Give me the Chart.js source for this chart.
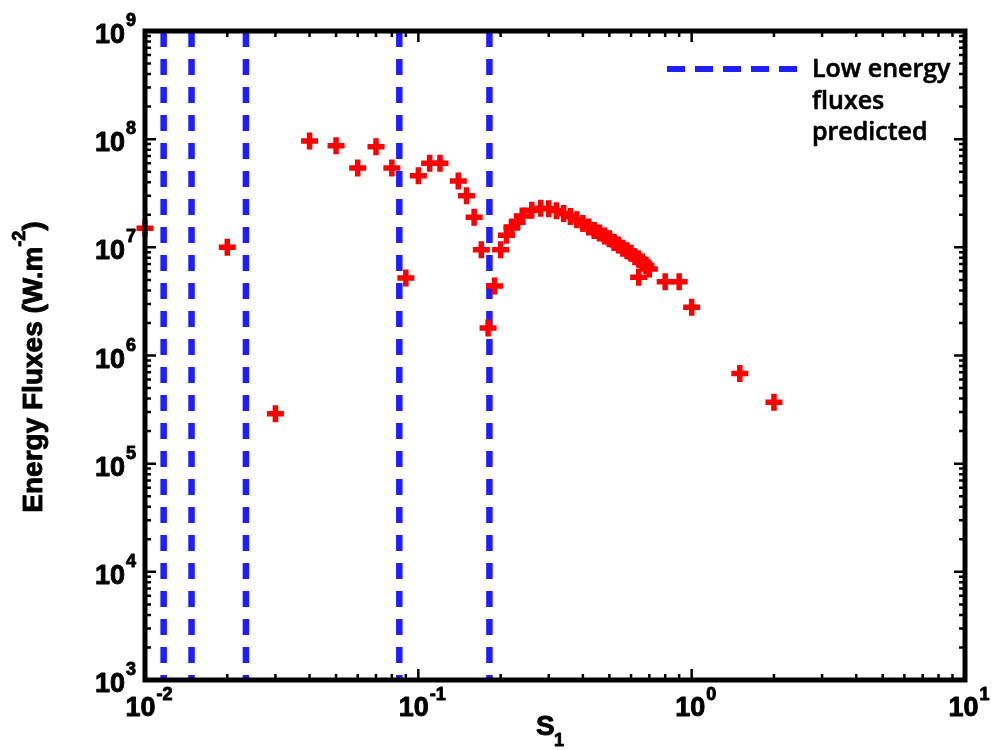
<!DOCTYPE html>
<html>
<head>
<meta charset="utf-8">
<script src="https://cdn.jsdelivr.net/npm/chart.js@4.4.1/dist/chart.umd.min.js"></script>
<style>
  html, body { margin: 0; padding: 0; background: #fff; }
  canvas { display: block; }
</style>
</head>
<body>
<canvas id="chart" width="992" height="750"></canvas>
<script>
/* Energy flux vs S1, log-log, with the "low energy" S1 values as dashed verticals. */

// measured points (S1, flux in W.m^-2)
var fluxS1 = [
  0.01, 0.02, 0.03, 0.04, 0.05, 0.06, 0.07, 0.08, 0.09, 0.10,
  0.11, 0.12, 0.14, 0.15, 0.16, 0.17, 0.18, 0.19, 0.20,
  0.21, 0.22, 0.23, 0.24, 0.26, 0.28, 0.30, 0.32, 0.34, 0.36,
  0.38, 0.40, 0.42, 0.44, 0.46, 0.48, 0.50, 0.52, 0.54, 0.56,
  0.58, 0.60, 0.62, 0.64, 0.64, 0.66, 0.68, 0.70,
  0.80, 0.90, 1.0, 1.5, 2.0
];
var fluxValues = [
  1.5e7, 1.0e7, 2.9e5, 9.6e7, 8.7e7, 5.4e7, 8.5e7, 5.4e7, 5.2e6, 4.6e7,
  6.0e7, 6.0e7, 4.1e7, 3.0e7, 1.9e7, 9.5e6, 1.8e6, 4.4e6, 9.5e6,
  1.29e7, 1.54e7, 1.71e7, 1.95e7, 2.2e7, 2.3e7, 2.27e7, 2.18e7, 2.05e7, 1.93e7,
  1.8e7, 1.66e7, 1.54e7, 1.43e7, 1.36e7, 1.27e7, 1.2e7, 1.11e7, 1.05e7, 9.8e6,
  9.3e6, 8.8e6, 8.2e6, 7.8e6, 5.3e6, 7.3e6, 6.8e6, 6.3e6,
  4.8e6, 4.8e6, 2.8e6, 6.8e5, 3.7e5
];

// S1 values where low energy fluxes are predicted (vertical dashed lines)
var lowFluxS1 = [0.0117, 0.0148, 0.0234, 0.0852, 0.182];

// axis decades (tick labels are 10^n)
var xExponents = [-2, -1, 0, 1];
var yExponents = [3, 4, 5, 6, 7, 8, 9];
var legendLines = ['Low energy', 'fluxes', 'predicted'];

var RED = '#ff0000';
var BLUE = '#1e1eff';
var TICK_FONT = 'bold 27px "Liberation Sans", Arial, sans-serif';
var EXP_FONT = 'bold 18px "Liberation Sans", Arial, sans-serif';

function points() {
  return fluxS1.map(function (s, i) { return { x: s, y: fluxValues[i] }; });
}

function verticalLine(s) {
  return {
    data: [{ x: s, y: 1e9 }, { x: s, y: 1e3 }],
    showLine: true, borderColor: BLUE, borderWidth: 6.5, borderDash: [16, 12],
    pointRadius: 0, pointHoverRadius: 0
  };
}

// fill + thin stroke so the text looks as heavy as in the figure
function heavyText(ctx, txt, x, y) {
  ctx.fillText(txt, x, y);
  ctx.strokeText(txt, x, y);
}

/* frame, inside ticks, 10^n labels, axis titles and legend */
var decorations = {
  id: 'decorations',
  afterDatasetsDraw: function (chart) {
    var ctx = chart.ctx, a = chart.chartArea;
    var xs = chart.scales.x, ys = chart.scales.y;
    ctx.save();
    ctx.strokeStyle = '#000';
    ctx.fillStyle = '#000';

    // minor + major ticks on all four sides
    ctx.lineWidth = 2.5;
    function tickX(v, len) {
      var p = xs.getPixelForValue(v);
      ctx.beginPath();
      ctx.moveTo(p, a.bottom); ctx.lineTo(p, a.bottom - len);
      ctx.moveTo(p, a.top); ctx.lineTo(p, a.top + len);
      ctx.stroke();
    }
    function tickY(v, len) {
      var p = ys.getPixelForValue(v);
      ctx.beginPath();
      ctx.moveTo(a.left, p); ctx.lineTo(a.left + len, p);
      ctx.moveTo(a.right, p); ctx.lineTo(a.right - len, p);
      ctx.stroke();
    }
    xExponents.forEach(function (e, i) {
      tickX(Math.pow(10, e), 11);
      if (i < xExponents.length - 1) for (var m = 2; m <= 9; m++) tickX(m * Math.pow(10, e), 6);
    });
    yExponents.forEach(function (e, i) {
      tickY(Math.pow(10, e), 11);
      if (i < yExponents.length - 1) for (var m = 2; m <= 9; m++) tickY(m * Math.pow(10, e), 6);
    });

    // box
    ctx.lineWidth = 5;
    ctx.strokeRect(a.left, a.top, a.right - a.left, a.bottom - a.top);

    ctx.lineWidth = 0.9;
    ctx.lineJoin = 'round';

    // y tick labels
    ctx.textBaseline = 'alphabetic';
    yExponents.forEach(function (e) {
      var t = ys.getPixelForValue(Math.pow(10, e));
      var ex = String(e);
      ctx.font = EXP_FONT;
      var w = ctx.measureText(ex).width;
      ctx.textAlign = 'left';
      heavyText(ctx, ex, 136 - w, t - 5);
      ctx.font = TICK_FONT;
      ctx.textAlign = 'right';
      heavyText(ctx, '10', 135 - w, t + 12);
    });

    // x tick labels
    ctx.textAlign = 'left';
    xExponents.forEach(function (e) {
      var t = xs.getPixelForValue(Math.pow(10, e));
      var ex = String(e);
      ctx.font = TICK_FONT;
      var w1 = ctx.measureText('10').width;
      ctx.font = EXP_FONT;
      var w2 = ctx.measureText(ex).width;
      var left = t - (w1 + w2 + 1) / 2 + 4;
      ctx.font = TICK_FONT;
      heavyText(ctx, '10', left, 716);
      ctx.font = EXP_FONT;
      heavyText(ctx, ex, left + w1 + 1, 700);
    });

    // x title: S1
    ctx.font = 'bold 28px "Liberation Sans", Arial, sans-serif';
    heavyText(ctx, 'S', 536, 735);
    ctx.font = 'bold 18px "Liberation Sans", Arial, sans-serif';
    heavyText(ctx, '1', 554, 746);

    // y title, rotated
    ctx.save();
    ctx.translate(42, 367);
    ctx.rotate(-Math.PI / 2);
    var big = 'bold 28px "Liberation Sans", Arial, sans-serif';
    var small = 'bold 18px "Liberation Sans", Arial, sans-serif';
    ctx.font = big; var wa = ctx.measureText('Energy Fluxes (W.m').width, wc = ctx.measureText(')').width;
    ctx.font = small; var wb = ctx.measureText('-2').width;
    var x0 = -(wa + wb + wc) / 2;
    ctx.font = big; heavyText(ctx, 'Energy Fluxes (W.m', x0, 0);
    ctx.font = small; heavyText(ctx, '-2', x0 + wa, -17);
    ctx.font = big; heavyText(ctx, ')', x0 + wa + wb, 0);
    ctx.restore();

    // legend
    ctx.strokeStyle = BLUE;
    ctx.lineWidth = 6;
    ctx.setLineDash([18, 10]);
    ctx.beginPath();
    ctx.moveTo(667, 69); ctx.lineTo(797, 69);
    ctx.stroke();
    ctx.setLineDash([]);
    ctx.font = '600 25px "Open Sans", sans-serif';
    ctx.fillStyle = '#000';
    ctx.strokeStyle = '#000';
    ctx.lineWidth = 0.6;
    legendLines.forEach(function (txt, i) { heavyText(ctx, txt, 812, 77 + i * 31.5); });

    ctx.restore();
  }
};

var datasets = [{
  data: points(),
  showLine: false,
  pointStyle: 'cross',
  pointRadius: 8.5,
  pointHoverRadius: 8.5,
  pointBorderColor: RED,
  pointBackgroundColor: RED,
  pointBorderWidth: 5.5,
  pointHoverBorderWidth: 5.5,
  clip: false
}].concat(lowFluxS1.map(verticalLine));

new Chart(document.getElementById('chart'), {
  type: 'scatter',
  data: { datasets: datasets },
  options: {
    responsive: false,
    animation: false,
    events: [],
    layout: { padding: { left: 145, top: 31, right: 27, bottom: 70 } },
    plugins: { legend: { display: false }, tooltip: { enabled: false } },
    scales: {
      x: {
        type: 'logarithmic', min: 0.01, max: 10,
        grid: { display: false, drawTicks: false }, border: { display: false },
        ticks: { display: false },
        afterFit: function (s) { s.height = 0; }
      },
      y: {
        type: 'logarithmic', min: 1e3, max: 1e9,
        grid: { display: false, drawTicks: false }, border: { display: false },
        ticks: { display: false },
        afterFit: function (s) { s.width = 0; }
      }
    }
  },
  plugins: [decorations]
});
</script>
</body>
</html>
